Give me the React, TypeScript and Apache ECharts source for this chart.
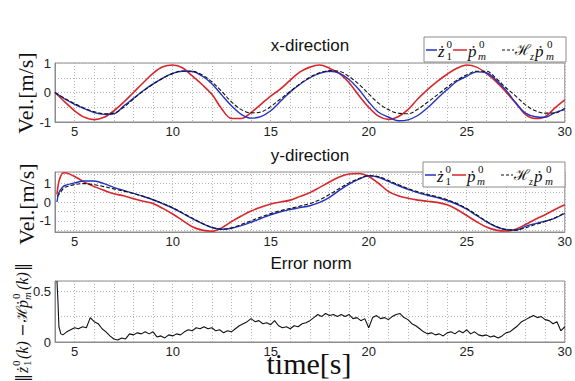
import React, { useEffect, useRef } from "react";
import * as echarts from "echarts";

// ---------- data ----------
const T1 = [4, 4.5, 5, 5.5, 6, 6.5, 7, 7.5, 8, 8.5, 9, 9.5, 10, 10.5, 11, 11.5, 12, 12.5, 13, 13.5, 14, 14.5, 15, 15.5, 16, 16.5, 17, 17.5, 18, 18.5, 19, 19.5, 20, 20.5, 21, 21.5, 22, 22.5, 23, 23.5, 24, 24.5, 25, 25.5, 26, 26.5, 27, 27.5, 28, 28.5, 29, 29.5, 30];
const RED_X = [0, -0.32, -0.62, -0.84, -0.92, -0.84, -0.62, -0.33, 0.0, 0.33, 0.65, 0.87, 0.93, 0.84, 0.56, 0.27, -0.06, -0.55, -0.88, -0.88, -0.68, -0.4, -0.12, 0.12, 0.42, 0.7, 0.86, 0.93, 0.82, 0.65, 0.33, -0.1, -0.5, -0.8, -0.91, -0.82, -0.58, -0.22, 0.1, 0.38, 0.62, 0.82, 0.93, 0.86, 0.65, 0.37, 0.02, -0.36, -0.75, -0.88, -0.82, -0.52, -0.25];
const BLUE_X = [0, -0.22, -0.4, -0.55, -0.68, -0.74, -0.72, -0.46, -0.2, 0.06, 0.29, 0.49, 0.65, 0.72, 0.71, 0.56, 0.3, -0.08, -0.45, -0.74, -0.87, -0.82, -0.62, -0.3, 0.02, 0.28, 0.5, 0.65, 0.72, 0.66, 0.44, 0.1, -0.32, -0.67, -0.83, -0.96, -0.93, -0.78, -0.52, -0.2, 0.1, 0.38, 0.55, 0.7, 0.67, 0.42, 0.08, -0.35, -0.7, -0.82, -0.84, -0.68, -0.58];
const BLACK_X = [0, -0.2, -0.38, -0.53, -0.65, -0.72, -0.7, -0.5, -0.22, 0.05, 0.28, 0.48, 0.64, 0.73, 0.72, 0.6, 0.36, 0.04, -0.32, -0.58, -0.69, -0.66, -0.48, -0.22, 0.04, 0.3, 0.52, 0.67, 0.74, 0.72, 0.54, 0.28, -0.05, -0.36, -0.58, -0.7, -0.72, -0.57, -0.33, -0.08, 0.18, 0.42, 0.6, 0.72, 0.72, 0.48, 0.16, -0.12, -0.42, -0.62, -0.7, -0.7, -0.53];

const T2 = [4.1, 4.2, 4.35, 4.5, 5, 5.5, 6, 6.5, 7, 7.5, 8, 8.5, 9, 9.5, 10, 10.5, 11, 11.5, 12, 12.5, 13, 13.5, 14, 14.5, 15, 15.5, 16, 16.5, 17, 17.5, 18, 18.5, 19, 19.5, 20, 20.5, 21, 21.5, 22, 22.5, 23, 23.5, 24, 24.5, 25, 25.5, 26, 26.5, 27, 27.5, 28, 28.5, 29, 29.5, 30];
const RED_Y = [0.4, 1.1, 1.5, 1.56, 1.36, 1.06, 0.82, 0.62, 0.44, 0.33, 0.18, 0.04, -0.08, -0.34, -0.64, -0.98, -1.32, -1.5, -1.56, -1.38, -1.05, -0.75, -0.48, -0.28, -0.11, 0.0, 0.1, 0.3, 0.5, 0.78, 1.07, 1.33, 1.49, 1.52, 1.36, 1.0, 0.57, 0.33, 0.2, 0.1, 0.04, -0.02, -0.15, -0.4, -0.72, -1.05, -1.33, -1.5, -1.55, -1.45, -1.2, -0.92, -0.68, -0.4, -0.15];
const BLUE_Y = [0.0, 0.5, 0.75, 0.88, 1.02, 1.12, 1.12, 0.98, 0.78, 0.62, 0.46, 0.3, 0.12, -0.1, -0.32, -0.6, -0.88, -1.14, -1.36, -1.45, -1.4, -1.26, -1.08, -0.88, -0.68, -0.52, -0.4, -0.3, -0.2, -0.02, 0.25, 0.62, 0.95, 1.22, 1.4, 1.32, 1.1, 0.88, 0.68, 0.5, 0.36, 0.24, 0.08, -0.12, -0.38, -0.72, -1.05, -1.32, -1.47, -1.5, -1.3, -1.15, -1.02, -0.86, -0.6];
const BLACK_Y = [0.3, 0.4, 0.62, 0.78, 0.93, 0.98, 0.92, 0.82, 0.7, 0.58, 0.45, 0.3, 0.12, -0.08, -0.3, -0.58, -0.86, -1.13, -1.35, -1.46, -1.38, -1.2, -1.0, -0.8, -0.62, -0.46, -0.34, -0.22, -0.08, 0.12, 0.4, 0.72, 1.02, 1.25, 1.4, 1.35, 1.15, 0.93, 0.72, 0.55, 0.4, 0.28, 0.12, -0.08, -0.35, -0.68, -1.02, -1.3, -1.48, -1.5, -1.38, -1.2, -1.04, -0.84, -0.58];

const TE = [4.1, 4.15, 4.2, 4.3,
  4.4, 4.6, 4.8, 5.0, 5.2, 5.4, 5.6, 5.8, 6.0, 6.2, 6.4, 6.6, 6.8, 7.0, 7.2, 7.4, 7.6, 7.8,
  8.0, 8.2, 8.4, 8.6, 8.8, 9.0, 9.2, 9.4, 9.6, 9.8, 10.0, 10.2, 10.4, 10.6, 10.8, 11.0, 11.2, 11.4, 11.6, 11.8,
  12.0, 12.2, 12.4, 12.6, 12.8, 13.0, 13.2, 13.4, 13.6, 13.8, 14.0, 14.2, 14.4, 14.6, 14.8, 15.0, 15.2, 15.4, 15.6, 15.8,
  16.0, 16.2, 16.4, 16.6, 16.8, 17.0, 17.2, 17.4, 17.6, 17.8, 18.0, 18.2, 18.4, 18.6, 18.8, 19.0, 19.2, 19.4, 19.6, 19.8,
  20.0, 20.2, 20.4, 20.6, 20.8, 21.0, 21.2, 21.4, 21.6, 21.8, 22.0, 22.2, 22.4, 22.6, 22.8, 23.0, 23.2, 23.4, 23.6, 23.8,
  24.0, 24.2, 24.4, 24.6, 24.8, 25.0, 25.2, 25.4, 25.6, 25.8, 26.0, 26.2, 26.4, 26.6, 26.8, 27.0, 27.2, 27.4, 27.6, 27.8,
  28.0, 28.2, 28.4, 28.6, 28.8, 29.0, 29.2, 29.4, 29.6, 29.8, 30.0];
const ERR = [0.6, 0.4, 0.15, 0.08,
  0.07, 0.1, 0.12, 0.14, 0.13, 0.15, 0.14, 0.24, 0.2, 0.18, 0.13, 0.1, 0.06, 0.03, 0.02, 0.04, 0.03, 0.08,
  0.07, 0.09, 0.08, 0.1, 0.08, 0.1, 0.05, 0.06, 0.04, 0.07, 0.06, 0.08, 0.07, 0.1, 0.12, 0.11, 0.14, 0.13, 0.15, 0.13,
  0.14, 0.11, 0.12, 0.09, 0.11, 0.1, 0.13, 0.16, 0.18, 0.2, 0.23, 0.2, 0.21, 0.18, 0.19, 0.17, 0.21, 0.16, 0.14, 0.15,
  0.13, 0.16, 0.15, 0.18, 0.19, 0.21, 0.24, 0.27, 0.25, 0.28, 0.26, 0.27, 0.25, 0.27, 0.25, 0.27, 0.23, 0.24, 0.21, 0.23,
  0.14, 0.24, 0.26, 0.23, 0.24, 0.22, 0.25, 0.27, 0.28, 0.24, 0.22, 0.18, 0.16, 0.13, 0.1, 0.08, 0.09, 0.07, 0.08, 0.06,
  0.09, 0.1, 0.08, 0.11, 0.09, 0.12, 0.08, 0.1, 0.07, 0.06, 0.07, 0.05, 0.06, 0.04, 0.06, 0.09, 0.1, 0.13, 0.16, 0.2,
  0.22, 0.24, 0.26, 0.24, 0.25, 0.22, 0.21, 0.18, 0.2, 0.11, 0.15];

const X_LABELS = [5, 10, 15, 20, 25, 30];
const Y1_LABELS = [-1, 0, 1];
const Y2_LABELS = [-1, 0, 1];
const Y3_LABELS = [0, 0.5];

// ---------- style ----------
const RED = "#d8262a";
const BLUE = "#2232c2";
const BLACK = "#111111";
const SERIF = '"Liberation Serif","DejaVu Serif",serif';
const DSERIF = '"DejaVu Serif","Liberation Serif",serif';
const SANS = '"Liberation Sans",Arial,sans-serif';
const FRAME = "#8c8c8c";
const GRIDC = "#b4b4b4";

const inList = (list: number[], v: number) => list.some((x) => Math.abs(x - v) < 1e-6);

function txt(text: string, x: number, y: number, font: string, extra: any = {}) {
  return {
    type: "text",
    x,
    y,
    z: 101,
    style: {
      text,
      font,
      fill: "#111",
      textAlign: "left",
      textVerticalAlign: "middle",
      align: "left",
      verticalAlign: "middle",
      ...extra,
    },
  };
}

function legendEls(x0: number, y0: number) {
  const cy = y0 + 13;
  const it = (s: number) => `italic ${s}px ${SERIF}`;
  const up = (s: number) => `${s}px ${SERIF}`;
  return [
    { type: "rect", z: 100, shape: { x: x0, y: y0, width: 142, height: 25 }, style: { fill: "#fff", stroke: FRAME, lineWidth: 1 } },
    { type: "line", z: 101, shape: { x1: x0 + 2, y1: cy, x2: x0 + 13, y2: cy }, style: { stroke: BLUE, lineWidth: 1.5 } },
    txt("ż", x0 + 14, cy + 1, it(17)),
    txt("0", x0 + 22.5, cy - 6, up(11)),
    txt("1", x0 + 22.5, cy + 6, up(11)),
    { type: "line", z: 101, shape: { x1: x0 + 29, y1: cy, x2: x0 + 43, y2: cy }, style: { stroke: RED, lineWidth: 1.5 } },
    txt("ṗ", x0 + 44, cy + 1, it(17)),
    txt("0", x0 + 55, cy - 6, up(11)),
    txt("m", x0 + 54, cy + 6, it(11)),
    { type: "line", z: 101, shape: { x1: x0 + 78, y1: cy, x2: x0 + 90, y2: cy }, style: { stroke: BLACK, lineWidth: 1.2, lineDash: [3, 2] } },
    txt("ℋ", x0 + 91, cy, `15px ${DSERIF}`),
    txt("z", x0 + 106, cy + 6, it(10)),
    txt("ṗ", x0 + 111, cy + 1, it(17)),
    txt("0", x0 + 123, cy - 6, up(11)),
    txt("m", x0 + 122, cy + 6, it(11)),
  ];
}

function errLabel() {
  const m = `16px ${DSERIF}`;
  const mi = `italic 16px ${SERIF}`;
  const s = `11px ${SERIF}`;
  const si = `italic 11px ${SERIF}`;
  return {
    type: "group",
    x: 22,
    y: 382,
    rotation: Math.PI / 2,
    z: 101,
    children: [
      txt("‖", 0, 0, m),
      txt("ż", 9, 0, mi),
      txt("0", 16, -6, s),
      txt("1", 16, 5, s),
      txt("(k)", 23, 0, mi),
      txt("−", 45, 0, m),
      txt("ℋ", 60, 0, `15px ${DSERIF}`),
      txt("ṗ", 74, 0, mi),
      txt("0", 83, -6, s),
      txt("m", 82, 5, si),
      txt("(k)", 92, 0, mi),
      txt("‖", 111, 0, m),
    ],
  };
}

function xAxis(i: number) {
  return {
    type: "value",
    gridIndex: i,
    min: 4,
    max: 30,
    interval: 1,
    axisLine: { show: true, onZero: false, lineStyle: { color: FRAME, width: 1 } },
    axisTick: { show: false },
    axisLabel: {
      margin: 3,
      fontSize: 13,
      color: "#222",
      fontFamily: SANS,
      formatter: (v: number) => (inList(X_LABELS, v) ? String(v) : ""),
    },
    splitLine: { show: true, lineStyle: { color: GRIDC, type: [1, 2], width: 1 } },
  };
}

function yAxis(i: number, min: number, max: number, labels: number[], extra: any = {}) {
  return {
    type: "value",
    gridIndex: i,
    min,
    max,
    axisLine: { show: true, onZero: false, lineStyle: { color: FRAME, width: 1 } },
    axisTick: { show: false },
    axisLabel: {
      margin: 4,
      fontSize: 13,
      color: "#222",
      fontFamily: SANS,
      formatter: (v: number) => (inList(labels, v) ? String(Math.round(v * 100) / 100) : ""),
    },
    splitLine: { show: true, lineStyle: { color: GRIDC, type: [1, 2], width: 1 } },
    ...extra,
  };
}

function lineSeries(axis: number, t: number[], v: number[], color: string, width: number, dashed = false, smooth: any = 0.35) {
  return {
    type: "line",
    xAxisIndex: axis,
    yAxisIndex: axis,
    data: t.map((x, i) => [x, v[i]]),
    symbol: "none",
    smooth,
    clip: true,
    lineStyle: { color, width, type: dashed ? [4, 2] : "solid" },
    z: dashed ? 4 : 3,
  };
}

export default function App() {
  const ref = useRef<HTMLDivElement>(null);
  useEffect(() => {
    if (!ref.current) return;
    const chart = echarts.init(ref.current, undefined, { renderer: "svg" });
    const gridBase = { left: 55, width: 511, show: true, borderColor: FRAME, borderWidth: 1, backgroundColor: "#fff" };
    chart.setOption({
      animation: false,
      backgroundColor: "#fff",
      grid: [
        { ...gridBase, top: 63, height: 59 },
        { ...gridBase, top: 172, height: 60 },
        { ...gridBase, top: 281, height: 61 },
      ],
      xAxis: [xAxis(0), xAxis(1), xAxis(2)],
      yAxis: [
        yAxis(0, -1, 1, Y1_LABELS, { interval: 0.5 }),
        yAxis(1, -1.6, 1.6, Y2_LABELS, { splitNumber: 6 }),
        yAxis(2, 0, 0.6, Y3_LABELS, { interval: 0.25 }),
      ],
      series: [
        lineSeries(0, T1, RED_X, RED, 1.6),
        lineSeries(0, T1, BLUE_X, BLUE, 1.4),
        lineSeries(0, T1, BLACK_X, BLACK, 1.1, true),
        lineSeries(1, T2, RED_Y, RED, 1.6),
        lineSeries(1, T2, BLUE_Y, BLUE, 1.4),
        lineSeries(1, T2, BLACK_Y, BLACK, 1.1, true),
        lineSeries(2, TE, ERR, BLACK, 1.1, false, false),
      ],
      graphic: [
        txt("x-direction", 310, 45, `17px ${SANS}`, { textAlign: "center", align: "center" }),
        txt("y-direction", 310, 155, `17px ${SANS}`, { textAlign: "center", align: "center" }),
        txt("Error norm", 311, 263, `17px ${SANS}`, { textAlign: "center", align: "center" }),
        { ...txt("Vel.[m/s]", 25, 93, `22px ${SERIF}`, { textAlign: "center", align: "center" }), rotation: Math.PI / 2 },
        { ...txt("Vel.[m/s]", 26, 204, `22px ${SERIF}`, { textAlign: "center", align: "center" }), rotation: Math.PI / 2 },
        errLabel(),
        txt("time[s]", 309, 363, `30px ${SERIF}`, { textAlign: "center", align: "center" }),
        ...legendEls(424, 37),
        ...legendEls(423, 162),
      ],
    });
    return () => chart.dispose();
  }, []);
  return <div ref={ref} style={{ position: "fixed", left: 0, top: 0, width: 575, height: 381 }} />;
}
